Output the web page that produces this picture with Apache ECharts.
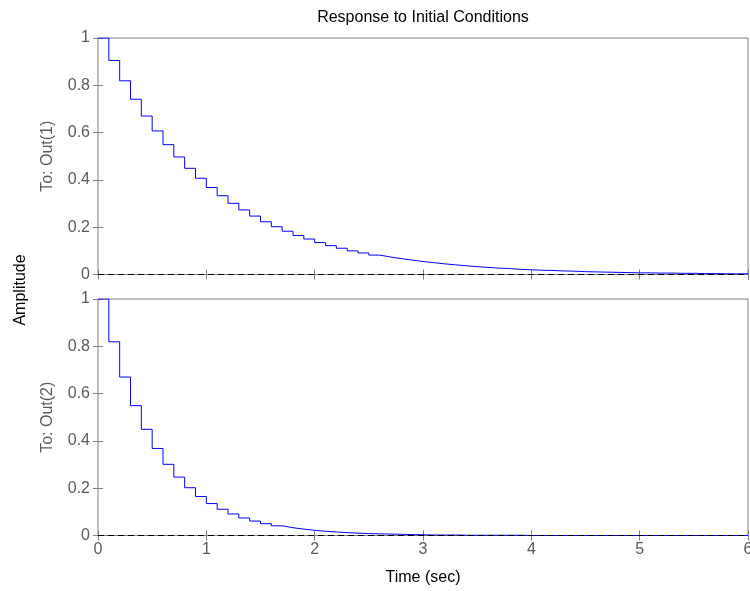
<!DOCTYPE html>
<html><head><meta charset="utf-8">
<script src="https://cdn.jsdelivr.net/npm/echarts@6/dist/echarts.min.js"></script>
<style>html,body{margin:0;padding:0;background:#fff}#c{width:750px;height:591px}</style>
</head><body><div id="c"></div>
<script>
// time samples (sec), step 0.1
const time = ["0","0.1","0.2","0.3","0.4","0.5","0.6","0.7","0.8","0.9","1","1.1","1.2","1.3","1.4","1.5","1.6","1.7","1.8","1.9","2","2.1","2.2","2.3","2.4","2.5","2.6","2.7","2.8","2.9","3","3.1","3.2","3.3","3.4","3.5","3.6","3.7","3.8","3.9","4","4.1","4.2","4.3","4.4","4.5","4.6","4.7","4.8","4.9","5","5.1","5.2","5.3","5.4","5.5","5.6","5.7","5.8","5.9","6"];
// To: Out(1)
const out1 = [1,0.905,0.819,0.741,0.670,0.607,0.549,0.497,0.449,0.407,0.368,0.333,0.301,0.273,0.247,0.223,0.202,0.183,0.165,0.150,0.135,0.122,0.111,0.100,0.091,0.082,0.074,0.067,0.061,0.055,0.050,0.045,0.041,0.037,0.033,0.030,0.027,0.025,0.022,0.020,0.018,0.017,0.015,0.014,0.012,0.011,0.010,0.009,0.008,0.007,0.007,0.006,0.006,0.005,0.005,0.004,0.004,0.003,0.003,0.003,0.003];
// To: Out(2)
const out2 = [1,0.819,0.670,0.549,0.449,0.368,0.301,0.247,0.202,0.165,0.135,0.111,0.091,0.074,0.061,0.050,0.041,0.033,0.027,0.022,0.018,0.015,0.012,0.010,0.008,0.007,0.006,0.005,0.004,0.003,0.002,0.002,0.002,0.001,0.001,0.001,0.001,0.001,0.001,0.000,0.000,0.000,0.000,0.000,0.000,0.000,0.000,0.000,0.000,0.000,0.000,0.000,0.000,0.000,0.000,0.000,0.000,0.000,0.000,0.000,0.000];
const xTicks = [0,1,2,3,4,5,6];
const yTicks = [0,0.2,0.4,0.6,0.8,1];
const rowLabels = ["To: Out(1)","To: Out(2)"];

const FONT = "Liberation Sans, Arial, sans-serif";
const GRAY = "#808080";
const LBL = "#5a5a5a";
const FS = 16;
const chart = echarts.init(document.getElementById('c'));
const grids = [
  {left:98, right:2, top:38, height:236.5, show:true, borderColor:GRAY, borderWidth:1, backgroundColor:'#fff', outerBoundsMode:'none', containLabel:false},
  {left:98, right:2, top:299, height:236.5, show:true, borderColor:GRAY, borderWidth:1, backgroundColor:'#fff', outerBoundsMode:'none', containLabel:false}
];
const xAxes = [], yAxes = [];
for (let g=0; g<2; g++){
  ['bottom','top'].forEach(pos=>{
    xAxes.push({type:'value', gridIndex:g, position:pos, min:xTicks[0], max:xTicks[xTicks.length-1], interval:1,
      axisLine:{show:false}, splitLine:{show:false},
      axisTick:{show:true, inside:true, length:5, lineStyle:{color:GRAY}},
      axisLabel:{show: g===1 && pos==='bottom', color:LBL, fontSize:FS, fontFamily:FONT, margin:6},
      name: (g===1 && pos==='bottom') ? 'Time (sec)' : '', nameLocation:'middle', nameGap:34,
      nameTextStyle:{color:'#000', fontSize:FS, fontFamily:FONT}});
  });
  ['left','right'].forEach(pos=>{
    yAxes.push({type:'value', gridIndex:g, position:pos, min:yTicks[0], max:yTicks[yTicks.length-1], interval:0.2,
      axisLine:{show:false}, splitLine:{show:false},
      axisTick:{show:true, inside:true, length:5, lineStyle:{color:GRAY}},
      axisLabel:{show: pos==='left', color:LBL, fontSize:FS, fontFamily:FONT, margin:8},
      name: pos==='left' ? rowLabels[g] : '', nameLocation:'middle', nameGap:42, nameRotate:90,
      nameTextStyle:{color:LBL, fontSize:FS, fontFamily:FONT}});
  });
}
function mk(vals, g){
  return {type:'line', xAxisIndex:g*2, yAxisIndex:g*2, step:'end', showSymbol:false, symbol:'none',
    data: time.map((t,i)=>[Number(t), vals[i]]), lineStyle:{color:'#0000ff', width:1}, animation:false,
    markLine:{silent:true, symbol:'none', label:{show:false}, lineStyle:{color:'#000', type:[6,4], width:1},
      data:[{yAxis:0}]}};
}
chart.setOption({
  animation:false,
  graphic:[
    {type:'text', x:423, y:18, style:{text:'Response to Initial Conditions', fill:'#000', font:FS+'px '+FONT, textAlign:'center', textVerticalAlign:'middle'}},
    {type:'text', rotation:Math.PI/2, x:21, y:290, style:{text:'Amplitude', fill:'#000', font:FS+'px '+FONT, textAlign:'center', textVerticalAlign:'middle'}}
  ],
  grid:grids, xAxis:xAxes, yAxis:yAxes,
  series:[mk(out1,0), mk(out2,1)]
});
</script></body></html>
